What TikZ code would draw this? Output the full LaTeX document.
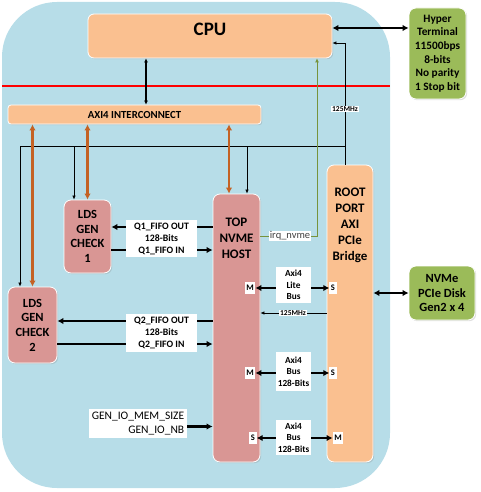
\documentclass[tikz,border=0pt]{standalone}
\usepackage{fontspec}
\setmainfont{Carlito}
\usetikzlibrary{arrows.meta, positioning, shadows}
\definecolor{boardblue}{RGB}{183,221,232}
\definecolor{peach}{RGB}{250,192,144}
\definecolor{rose}{RGB}{217,150,148}
\definecolor{leaf}{RGB}{155,187,89}
\definecolor{rust}{RGB}{196,98,36}
\definecolor{irqgreen}{RGB}{119,147,60}

\begin{document}
\begin{tikzpicture}[x=1pt, y=-1pt,
    blk/.style={draw=white, line width=0.8pt, rounded corners=7pt, inner sep=0pt, align=center,
      drop shadow={shadow xshift=1.2pt, shadow yshift=-1.2pt, opacity=0.25}},
    peachblk/.style={blk, fill=peach},
    roseblk/.style={blk, fill=rose},
    leafblk/.style={blk, fill=leaf},
    bigtxt/.style={font=\bfseries\fontsize{12.5}{14.6}\selectfont, align=center},
    tag/.style={fill=white, inner sep=1.5pt, minimum height=12pt, font=\bfseries\fontsize{8.5}{10}\selectfont},
    buslbl/.style={fill=white, inner sep=0pt, minimum width=35pt, align=center, font=\bfseries\fontsize{9.3}{11.5}\selectfont},
    qlbl/.style={fill=white, inner sep=0pt, minimum width=71pt, align=center, font=\bfseries\fontsize{9.8}{12}\selectfont},
    clktag/.style={fill=white, inner sep=1pt, font=\bfseries\fontsize{7.5}{9}\selectfont},
    fat/.style={line width=2.2pt, >={Latex[length=6pt,width=6.5pt]}},
    clk/.style={line width=0.7pt, >={Latex[length=4pt,width=3.5pt]}},
    axibus/.style={<->, rust, line width=2.4pt, >={Latex[length=6pt,width=6.5pt]}}]
    \useasboundingbox (0,0) rectangle (480,492);

    % Board
    \fill[boardblue, rounded corners=55pt] (2,2) rectangle (390,488);
    \draw[red, line width=1.3pt] (2,86) -- (390,86);

    % Processor side
    \node (cpu) [peachblk, minimum width=244pt, minimum height=44pt, rounded corners=6pt,
      label={[yshift=6.5pt, font=\bfseries\fontsize{19}{22}\selectfont]center:CPU}] at (210,36) {};
    \node (term) [leafblk, minimum width=57pt, minimum height=91pt,
      font=\bfseries\fontsize{11.3}{13.6}\selectfont] at (437.5,53.5)
      {Hyper\\Terminal\\11500bps\\8-bits\\No parity\\1 Stop bit};
    \node (axi) [peachblk, minimum width=253pt, minimum height=19pt, rounded corners=3pt,
      font=\bfseries\fontsize{10.8}{12}\selectfont] at (134.5,114.5) {AXI4 INTERCONNECT};

    % Test blocks
    \node (lds1) [roseblk, bigtxt, minimum width=47pt, minimum height=73pt] at (87.5,236.5) {LDS\\GEN\\CHECK\\1};
    \node (lds2) [roseblk, bigtxt, minimum width=49pt, minimum height=76pt] at (32.5,325) {LDS\\GEN\\CHECK\\2};
    \node (nvme) [roseblk, minimum width=47pt, minimum height=268pt,
      label={[bigtxt, font=\bfseries\fontsize{13}{16}\selectfont, yshift=90pt]center:{TOP\\NVME\\HOST}}] at (236.5,328) {};
    \node (root) [peachblk, minimum width=46pt, minimum height=297pt,
      label={[bigtxt, font=\bfseries\fontsize{13}{16}\selectfont, yshift=88.5pt]center:{ROOT\\PORT\\AXI\\PCIe\\Bridge}}] at (350,313.5) {};
    \node (disk) [leafblk, bigtxt, minimum width=66pt, minimum height=54pt] at (442,293) {NVMe\\PCIe Disk\\Gen2 x 4};
    \node (genio) [fill=white, inner sep=0pt, minimum width=98pt, minimum height=29pt, align=right,
      font=\fontsize{11.5}{14.3}\selectfont] at (138,423.5) {GEN\_IO\_MEM\_SIZE\\GEN\_IO\_NB};

    % Bus ends
    \node (m1) [tag] at (250,288) {M};
    \node (s1) [tag] at (333,288) {S};
    \node (m2) [tag] at (250,373) {M};
    \node (s2) [tag] at (333,373) {S};
    \node (s3) [tag] at (253,438) {S};
    \node (m3) [tag] at (338,438) {M};

    % Taps
    \coordinate (sys) at (146,80);
    \coordinate (tap) at (345,146);
    \coordinate (tapw) at (20,146);
    \coordinate (tap1) at (74,146);
    \coordinate (tap2) at (247,146);
    \coordinate (cpuclk) at (345,43);
    \coordinate (mhz) at (293,313);
    \coordinate (port3) at (229,160);
    \coordinate (irqtap) at (317,236);
    \coordinate (q1o) at (0,227);
    \coordinate (q1i) at (0,250);
    \coordinate (q2o) at (0,321);
    \coordinate (q2i) at (0,344);

    % Clocks
    \draw[clk, ->] (root.north -| tap) -- (cpuclk) -- (cpuclk -| cpu.east);
    \draw[clk] (tap) -- (tapw);
    \draw[clk, ->] (tapw) -- (tapw |- lds2.north);
    \draw[clk, ->] (tap1) -- (tap1 |- lds1.north);
    \draw[clk, ->] (tap2) -- (tap2 |- nvme.north);
    \draw[clk, ->] (root.west |- mhz) -- (nvme.east |- mhz);

    % AXI4 links
    \draw[<->, line width=1.2pt, >={Latex[length=4pt,width=4pt]}] (cpu.south -| sys) -- (axi.north -| sys);
    \draw[axibus] (axi.south -| lds2.north) -- (lds2.north);
    \draw[axibus] (axi.south -| lds1.north) -- (lds1.north);
    \draw[axibus] (axi.south -| port3) -- (port3 |- nvme.north);

    % Interrupt
    \draw[->, irqgreen, line width=1pt, >={Latex[length=4pt,width=4pt]}] (nvme.east |- irqtap) -- (irqtap) -- (irqtap |- cpu.south);

    % Data arrows
    \draw[fat, <->] ([yshift=8pt]cpu.east) -- ([yshift=8pt]cpu.east -| term.west);
    \draw[fat, <->] (root.east |- disk.west) -- (disk.west);
    \draw[fat, ->] (nvme.west |- q1o) -- (lds1.east |- q1o);
    \draw[fat, ->] (lds1.east |- q1i) -- (nvme.west |- q1i);
    \draw[fat, ->] (nvme.west |- q2o) -- (lds2.east |- q2o);
    \draw[fat, ->] (lds2.east |- q2i) -- (nvme.west |- q2i);
    \draw[fat, ->] ([yshift=-3pt]genio.east) -- ([yshift=-3pt]genio.east -| nvme.west);
    \draw[fat, <->] (m1) -- (s1);
    \draw[fat, <->] (m2) -- (s2);
    \draw[fat, <->] (s3) -- (m3);

    % Labels
    \node (q1) [qlbl, minimum height=37pt] at (161.5,238.5) {Q1\_FIFO OUT\\128-Bits\\Q1\_FIFO IN};
    \node (q2) [qlbl, minimum height=38pt] at (161.5,333) {Q2\_FIFO OUT\\128-Bits\\Q2\_FIFO IN};
    \node (lite) [buslbl, minimum height=36pt] at (293.5,285) {Axi4\\Lite\\Bus};
    \node (bus1) [buslbl, minimum height=39pt] at (293.5,371.5) {Axi4\\Bus\\128-Bits};
    \node (bus2) [buslbl, minimum height=35pt] at (293.5,437.5) {Axi4\\Bus\\128-Bits};
    \node (mhz1) [clktag] at (345,109) {125MHz};
    \node (mhz2) [clktag] at (mhz) {125MHz};
    \node (irq) [fill=white, inner sep=1pt, text=darkgray, font=\fontsize{10.5}{12}\selectfont] at (290,236) {irq\_nvme};
\end{tikzpicture}
\end{document}
